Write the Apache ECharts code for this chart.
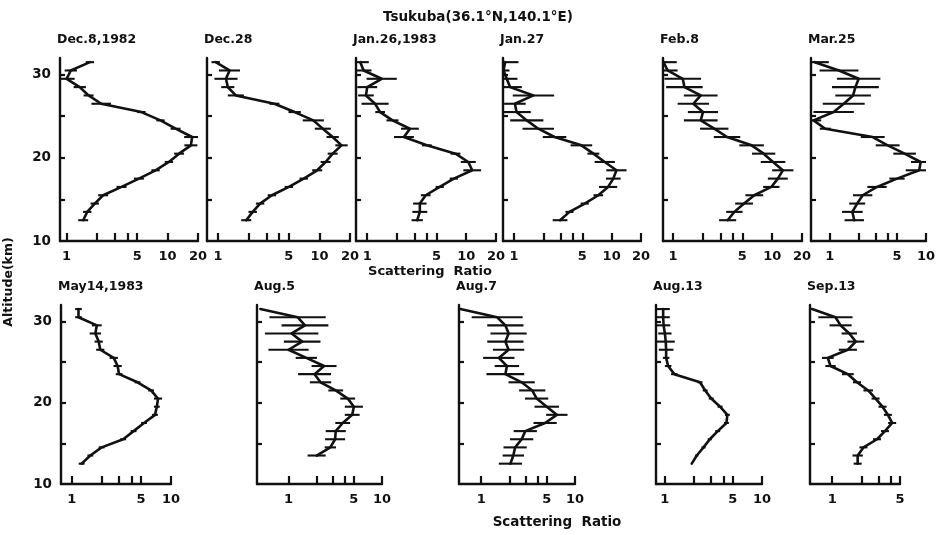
<!DOCTYPE html>
<html>
<head>
<meta charset="utf-8">
<script src="https://cdn.jsdelivr.net/npm/echarts@6/dist/echarts.min.js"></script>
<style>
  html, body { margin: 0; padding: 0; background: #ffffff; }
  #chart { width: 948px; height: 535px; }
</style>
</head>
<body>
<div id="chart"></div>
<script>
// Lidar backscatter profiles over Tsukuba, 1982-1983.
// Altitude levels (km) shared by all profiles.
const altitudeKm = [12.5, 13.5, 14.5, 15.5, 16.5, 17.5, 18.5, 19.5, 20.5, 21.5,
                    22.5, 23.5, 24.5, 25.5, 26.5, 27.5, 28.5, 29.5, 30.5, 31.5];

// Scattering ratio per level, and error-bar spread (multiplicative factor).
const dec08Ratio = [1.46, 1.6, 1.9, 2.3, 3.5, 5.2, 7.6, 10.3, 13, 17, 17.5, 12, 8.5, 5.5, 2.2, 1.65, 1.35, 1.0, 1.1, 1.7];
const dec08Err   = [1.12, 1.1, 1.1, 1.12, 1.12, 1.12, 1.1, 1.1, 1.12, 1.16, 1.2, 1.12, 1.1, 1.1, 1.25, 1.12, 1.15, 1.2, 1.15, 1.1];

const dec28Ratio = [1.9, 2.2, 2.6, 3.4, 5.0, 7.0, 9.5, 11.5, 13.5, 16.5, 13.5, 10.8, 8.7, 5.7, 3.6, 1.5, 1.25, 1.2, 1.3, 0.95];
const dec28Err   = [1.12, 1.1, 1.1, 1.1, 1.1, 1.1, 1.12, 1.12, 1.12, 1.15, 1.15, 1.2, 1.27, 1.15, 1.12, 1.2, 1.16, 1.3, 1.27, 1.1];

const jan26Ratio = [3.2, 3.4, 3.4, 3.9, 5.4, 7.5, 11.5, 10.5, 7.8, 4.0, 2.35, 2.7, 1.8, 1.35, 1.2, 0.97, 1.0, 1.4, 0.92, 0.85];
const jan26Err   = [1.14, 1.19, 1.17, 1.12, 1.1, 1.1, 1.23, 1.19, 1.12, 1.12, 1.26, 1.23, 1.15, 1.12, 1.37, 1.2, 1.26, 1.42, 1.2, 1.22];

const jan27Ratio = [2.96, 3.7, 5.3, 7.3, 9.2, 10.4, 11.2, 8.5, 6.5, 4.9, 2.6, 1.77, 1.35, 1.06, 1.02, 1.58, 0.91, 0.84, 0.78, 0.81];
const jan27Err   = [1.19, 1.1, 1.1, 1.12, 1.24, 1.19, 1.27, 1.27, 1.15, 1.29, 1.32, 1.45, 1.48, 1.4, 1.29, 1.63, 1.32, 1.29, 1.15, 1.37];

const feb08Ratio = [3.55, 4.15, 5.2, 6.6, 9.8, 11.4, 12.8, 10.2, 8.2, 6.2, 3.5, 2.6, 1.9, 2.0, 1.6, 1.9, 1.3, 1.25, 0.88, 0.8];
const feb08Err   = [1.22, 1.21, 1.23, 1.23, 1.21, 1.26, 1.28, 1.33, 1.31, 1.33, 1.36, 1.39, 1.48, 1.42, 1.44, 1.48, 1.53, 1.53, 1.26, 1.36];

const mar25Ratio = [1.8, 1.72, 1.93, 2.2, 3.1, 5.0, 8.5, 8.8, 6.0, 4.0, 2.8, 0.9, 0.68, 1.1, 1.4, 1.75, 1.85, 2.0, 1.25, 0.7];
const mar25Err   = [1.26, 1.28, 1.21, 1.26, 1.26, 1.2, 1.38, 1.26, 1.31, 1.33, 1.33, 1.14, 1.2, 1.62, 1.65, 1.53, 1.75, 1.68, 1.59, 1.4];

const may14Ratio = [1.26, 1.54, 2.0, 3.3, 4.2, 5.35, 6.9, 7.2, 7.4, 6.3, 4.6, 3.0, 2.9, 2.65, 1.94, 1.87, 1.73, 1.79, 1.17, 1.17];
const may14Err   = [1.07, 1.07, 1.07, 1.07, 1.07, 1.07, 1.07, 1.07, 1.1, 1.07, 1.07, 1.08, 1.1, 1.1, 1.1, 1.1, 1.14, 1.12, 1.08, 1.08];

const aug05Ratio = [null, 2.0, 2.8, 3.15, 3.2, 3.8, 4.8, 5.0, 4.3, 3.2, 2.2, 1.9, 2.4, 1.55, 1.0, 1.4, 1.08, 1.5, 1.25, 0.5];
const aug05Err   = [1, 1.25, 1.15, 1.28, 1.28, 1.2, 1.2, 1.25, 1.2, 1.2, 1.3, 1.5, 1.36, 1.3, 1.64, 1.57, 1.93, 1.78, 2.0, 1];

const aug07Ratio = [2.05, 2.2, 2.3, 2.7, 2.95, 4.8, 6.4, 5.0, 3.9, 3.5, 2.7, 1.81, 1.88, 1.54, 1.96, 1.81, 1.96, 1.81, 1.48, 0.6];
const aug07Err   = [1.33, 1.3, 1.33, 1.33, 1.33, 1.33, 1.3, 1.35, 1.33, 1.38, 1.38, 1.59, 1.35, 1.47, 1.47, 1.56, 1.56, 1.56, 1.87, 1];

const aug13Ratio = [1.89, 2.13, 2.5, 2.9, 3.5, 4.3, 4.4, 3.7, 3.0, 2.6, 2.3, 1.25, 1.08, 1.03, 1.03, 1.02, 1.0, 0.97, 0.96, 0.96];
const aug13Err   = [1, 1.04, 1.05, 1.05, 1.06, 1.06, 1.06, 1.06, 1.06, 1.06, 1.06, 1.08, 1.08, 1.08, 1.19, 1.24, 1.17, 1.17, 1.17, 1.17];

const sep13Ratio = [1.83, 1.83, 2.1, 2.9, 3.5, 4.15, 3.75, 3.3, 2.8, 2.35, 1.8, 1.45, 0.96, 0.9, 1.45, 1.75, 1.5, 1.22, 1.08, 0.62];
const sep13Err   = [1.1, 1.13, 1.1, 1.1, 1.1, 1.1, 1.1, 1.1, 1.1, 1.12, 1.1, 1.15, 1.13, 1.15, 1.24, 1.22, 1.2, 1.3, 1.5, 1];

// Axis tick and label values
const ticksTo20  = [1, 2, 3, 4, 5, 10, 20];
const labelsTo20 = [1, 5, 10, 20];
const ticksTo10  = [1, 2, 3, 4, 5, 10];
const labelsTo10 = [1, 5, 10];
const ticksTo5   = [1, 2, 3, 4, 5];
const labelsTo5  = [1, 5];
const altTicks   = [15, 20, 25, 30];
const altLabels  = [10, 20, 30];

const panelTitles = ['Dec.8,1982', 'Dec.28', 'Jan.26,1983', 'Jan.27', 'Feb.8', 'Mar.25',
                     'May14,1983', 'Aug.5', 'Aug.7', 'Aug.13', 'Sep.13'];

// Panel layout (pixels) and axis extents
const TOP_ROW = { top: 58, height: 183 };
const BOT_ROW = { top: 305, height: 179 };
const panels = [
  { title: panelTitles[0],  ratio: dec08Ratio, err: dec08Err, row: TOP_ROW, left: 60,  width: 138, min: 0.86, max: 20, ticks: ticksTo20, labels: labelsTo20, yLabels: true },
  { title: panelTitles[1],  ratio: dec28Ratio, err: dec28Err, row: TOP_ROW, left: 207, width: 143, min: 0.78, max: 20, ticks: ticksTo20, labels: labelsTo20 },
  { title: panelTitles[2],  ratio: jan26Ratio, err: jan26Err, row: TOP_ROW, left: 356, width: 140, min: 0.77, max: 20, ticks: ticksTo20, labels: labelsTo20 },
  { title: panelTitles[3],  ratio: jan27Ratio, err: jan27Err, row: TOP_ROW, left: 503, width: 138, min: 0.77, max: 20, ticks: ticksTo20, labels: labelsTo20 },
  { title: panelTitles[4],  ratio: feb08Ratio, err: feb08Err, row: TOP_ROW, left: 663, width: 139, min: 0.79, max: 20, ticks: ticksTo20, labels: labelsTo20 },
  { title: panelTitles[5],  ratio: mar25Ratio, err: mar25Err, row: TOP_ROW, left: 811, width: 115, min: 0.64, max: 10, ticks: ticksTo10, labels: labelsTo10 },
  { title: panelTitles[6],  ratio: may14Ratio, err: may14Err, row: BOT_ROW, left: 61,  width: 110, min: 0.78, max: 10, ticks: ticksTo10, labels: labelsTo10, yLabels: true },
  { title: panelTitles[7],  ratio: aug05Ratio, err: aug05Err, row: BOT_ROW, left: 257, width: 125, min: 0.46, max: 10, ticks: ticksTo10, labels: labelsTo10 },
  { title: panelTitles[8],  ratio: aug07Ratio, err: aug07Err, row: BOT_ROW, left: 459, width: 116, min: 0.58, max: 10, ticks: ticksTo10, labels: labelsTo10 },
  { title: panelTitles[9],  ratio: aug13Ratio, err: aug13Err, row: BOT_ROW, left: 656, width: 106, min: 0.81, max: 10, ticks: ticksTo10, labels: labelsTo10 },
  { title: panelTitles[10], ratio: sep13Ratio, err: sep13Err, row: BOT_ROW, left: 810, width: 90,  min: 0.59, max: 5,  ticks: ticksTo5,  labels: labelsTo5 }
];

const INK = '#111111';
const FONT = 'DejaVu Sans';

const grids = [], xAxes = [], yAxes = [], series = [], texts = [];

panels.forEach((p, i) => {
  grids.push({ left: p.left, top: p.row.top, width: p.width, height: p.row.height });

  xAxes.push({
    gridIndex: i, type: 'log', logBase: 10, min: p.min, max: p.max,
    axisLine: { show: true, lineStyle: { color: INK, width: 2.4 } },
    axisTick: { show: true, inside: true, length: 8, customValues: p.ticks, lineStyle: { color: INK, width: 2.2 } },
    axisLabel: {
      show: true, customValues: p.labels, margin: 9, color: INK,
      fontFamily: FONT, fontWeight: 'bold', fontSize: 13,
      formatter: v => String(Math.round(v))
    },
    minorTick: { show: false }, splitLine: { show: false }
  });

  yAxes.push({
    gridIndex: i, type: 'value', min: 10, max: 32,
    axisLine: { show: true, lineStyle: { color: INK, width: 2.4 } },
    axisTick: { show: true, inside: true, length: 5, customValues: altTicks, lineStyle: { color: INK, width: 2.2 } },
    axisLabel: {
      show: !!p.yLabels, customValues: altLabels, margin: 9, color: INK,
      fontFamily: FONT, fontWeight: 'bold', fontSize: 13.5
    },
    splitLine: { show: false }
  });

  const profile = [];
  const bars = [];
  p.ratio.forEach((v, k) => {
    if (v == null) return;
    profile.push([v, altitudeKm[k]]);
    bars.push([v, altitudeKm[k], p.err[k]]);
  });

  series.push({
    type: 'line', xAxisIndex: i, yAxisIndex: i, data: profile,
    showSymbol: false, symbol: 'none', animation: false, silent: true,
    lineStyle: { color: INK, width: 2.6, join: 'round', cap: 'round' }
  });

  const lo = p.min, hi = p.max;
  series.push({
    type: 'custom', xAxisIndex: i, yAxisIndex: i, data: bars, animation: false, silent: true,
    encode: { x: 0, y: 1 },
    renderItem: (params, api) => {
      const v = api.value(0), a = api.value(1), f = api.value(2);
      const p1 = api.coord([Math.max(v / f, lo), a]);
      const p2 = api.coord([Math.min(v * f, hi), a]);
      return {
        type: 'line',
        shape: { x1: p1[0], y1: p1[1], x2: p2[0], y2: p2[1] },
        style: { stroke: INK, lineWidth: 2.1 }
      };
    }
  });

  texts.push({
    type: 'text', x: p.left - 3, y: p.row.top - 25,
    style: { text: p.title, fill: INK, font: `bold 12.5px "${FONT}"`, textAlign: 'left', textVerticalAlign: 'top' }
  });
});

// Figure-level captions
texts.push(
  { type: 'text', x: 478, y: 10,
    style: { text: 'Tsukuba(36.1°N,140.1°E)', fill: INK, font: `bold 13.5px "${FONT}"`, textAlign: 'center', textVerticalAlign: 'top' } },
  { type: 'text', x: 430, y: 265,
    style: { text: 'Scattering  Ratio', fill: INK, font: `bold 13px "${FONT}"`, textAlign: 'center', textVerticalAlign: 'top' } },
  { type: 'text', x: 557, y: 515,
    style: { text: 'Scattering  Ratio', fill: INK, font: `bold 13.5px "${FONT}"`, textAlign: 'center', textVerticalAlign: 'top' } },
  { type: 'text', x: 9, y: 282, rotation: Math.PI / 2,
    style: { text: 'Altitude(km)', fill: INK, font: `bold 12.5px "${FONT}"`, textAlign: 'center', textVerticalAlign: 'middle' } }
);

const chart = echarts.init(document.getElementById('chart'), null, { renderer: 'canvas' });
chart.setOption({
  backgroundColor: '#ffffff',
  animation: false,
  grid: grids,
  xAxis: xAxes,
  yAxis: yAxes,
  series: series,
  graphic: texts
});
</script>
</body>
</html>
